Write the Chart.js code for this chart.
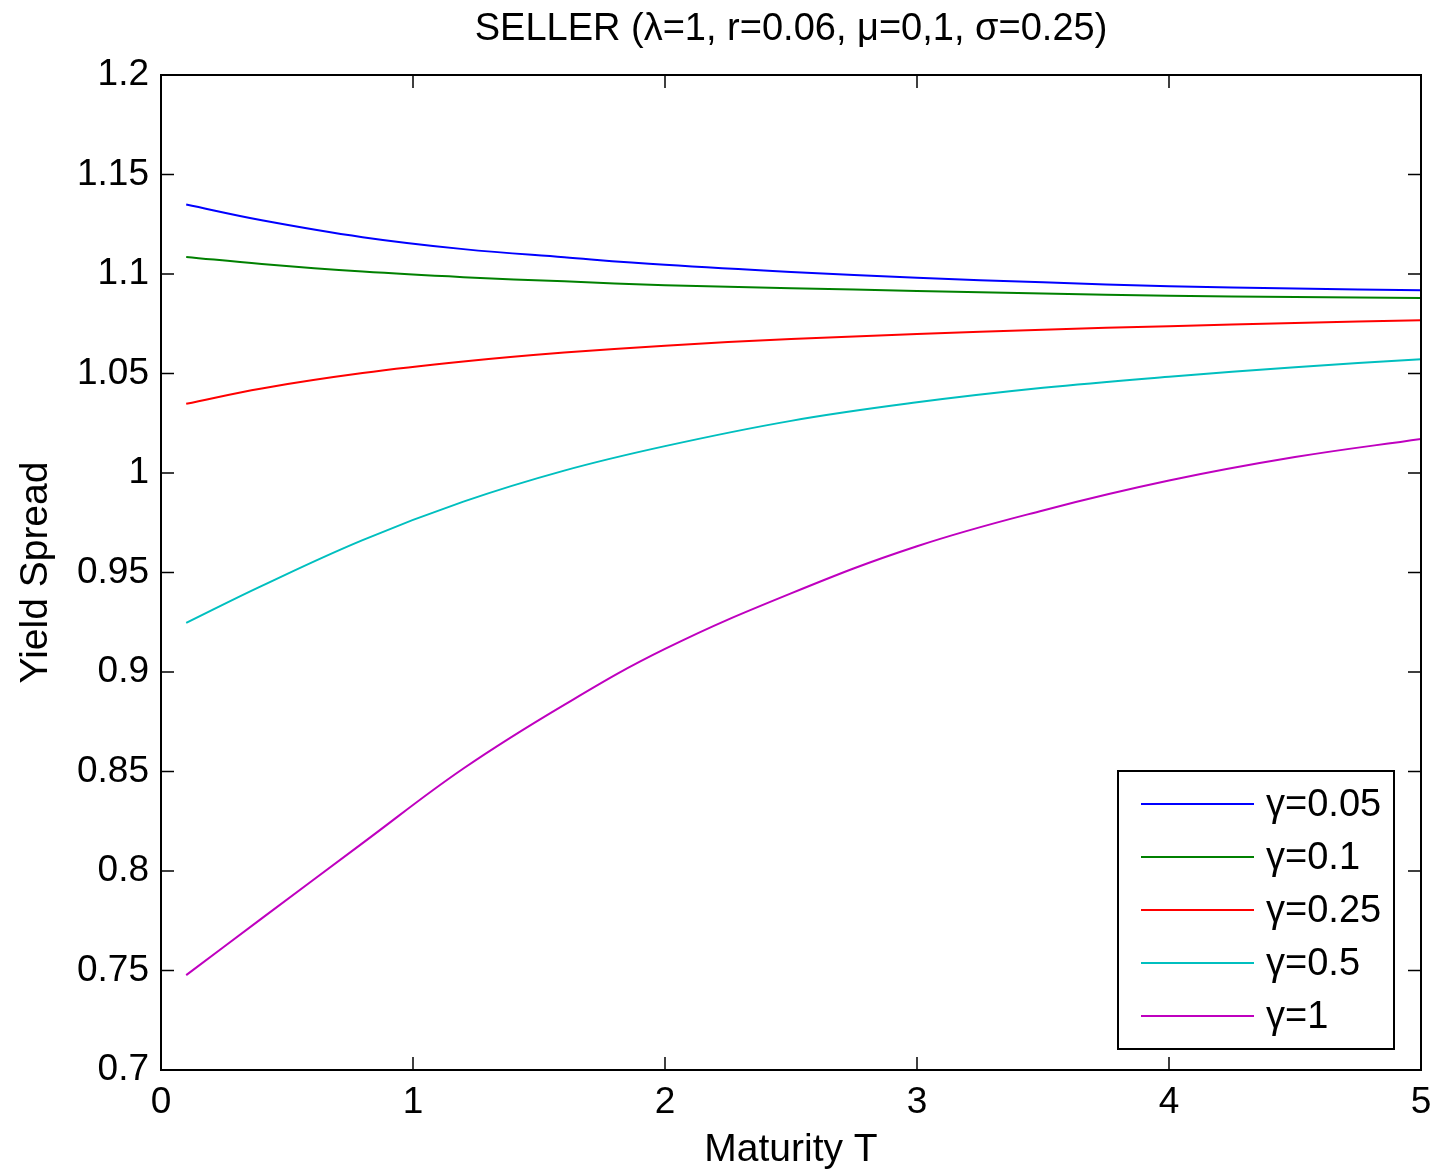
<!DOCTYPE html>
<html>
<head>
<meta charset="utf-8">
<title>SELLER yield spread</title>
<script src="https://cdn.jsdelivr.net/npm/chart.js@4/dist/chart.umd.min.js"></script>
<style>
    body { margin: 0; background: #fff; }
    canvas { display: block; }
</style>
</head>
<body>
<canvas id="seller-chart" width="1437" height="1174"></canvas>
<script>
// maturities (T)
const maturity = [0.1, 0.4, 0.8, 1.2, 1.6, 2.0, 2.5, 3.0, 3.5, 4.0, 4.5, 5.0];

// yield spread per gamma
const gamma005 = [1.1349, 1.1270, 1.1185, 1.1125, 1.1084, 1.1046, 1.1010, 1.0981, 1.0958, 1.0939, 1.0927, 1.0918];
const gamma01  = [1.1086, 1.1050, 1.1012, 1.0984, 1.0963, 1.0944, 1.0929, 1.0915, 1.0902, 1.0891, 1.0884, 1.0879];
const gamma025 = [1.0348, 1.0425, 1.0502, 1.0560, 1.0605, 1.0640, 1.0673, 1.0698, 1.0720, 1.0738, 1.0754, 1.0767];
const gamma05  = [0.9247, 0.9433, 0.9663, 0.9856, 1.0012, 1.0135, 1.0262, 1.0355, 1.0428, 1.0484, 1.0532, 1.0572];
const gamma1   = [0.7477, 0.7762, 0.8140, 0.8515, 0.8835, 0.9116, 0.9395, 0.9632, 0.9812, 0.9962, 1.0080, 1.0171];

const seriesLabels = ["γ=0.05", "γ=0.1", "γ=0.25", "γ=0.5", "γ=1"];
const seriesColors = ["#0000ff", "#008000", "#ff0000", "#00bfbf", "#bf00bf"];

const chartTitle = "SELLER (λ=1, r=0.06, μ=0,1, σ=0.25)";

const FONT = "'Liberation Sans', Arial, Helvetica, sans-serif";

function toPoints(values) {
    let points = [];
    for (let i = 0; i < maturity.length; i++) {
        points.push({ x: maturity[i], y: values[i] });
    }
    return points;
}

let datasets = [];
[gamma005, gamma01, gamma025, gamma05, gamma1].forEach((values, i) => {
    datasets.push({
        label: seriesLabels[i],
        data: toPoints(values),
        borderColor: seriesColors[i],
        borderWidth: 2,
        pointRadius: 0,
        fill: false,
        tension: 0.4,
    });
});

// matlab style box with inward ticks, title over the axes, legend box lower right
const boxPlugin = {
    id: "matlabBox",
    afterDatasetsDraw(chart) {
        const ctx = chart.ctx;
        const area = chart.chartArea;
        const xScale = chart.scales.x;
        const yScale = chart.scales.y;
        const tick = 13;

        ctx.save();
        ctx.strokeStyle = "#000";
        ctx.lineWidth = 1.5;
        ctx.beginPath();
        for (let t of xScale.ticks) {
            let px = xScale.getPixelForValue(t.value);
            ctx.moveTo(px, area.bottom);
            ctx.lineTo(px, area.bottom - tick);
            ctx.moveTo(px, area.top);
            ctx.lineTo(px, area.top + tick);
        }
        for (let t of yScale.ticks) {
            let py = yScale.getPixelForValue(t.value);
            ctx.moveTo(area.left, py);
            ctx.lineTo(area.left + tick, py);
            ctx.moveTo(area.right, py);
            ctx.lineTo(area.right - tick, py);
        }
        ctx.stroke();

        ctx.lineWidth = 2;
        ctx.strokeRect(area.left, area.top, area.right - area.left, area.bottom - area.top);

        // title, centred on the axes
        ctx.fillStyle = "#000";
        ctx.font = "38px " + FONT;
        ctx.textAlign = "center";
        ctx.textBaseline = "middle";
        ctx.fillText(chartTitle, (area.left + area.right) / 2, 30);

        // legend
        const boxW = 276;
        const boxH = 278;
        const boxX = area.right - 27 - boxW;
        const boxY = area.bottom - 21 - boxH;
        ctx.fillStyle = "#fff";
        ctx.fillRect(boxX, boxY, boxW, boxH);
        ctx.strokeStyle = "#000";
        ctx.lineWidth = 2;
        ctx.strokeRect(boxX, boxY, boxW, boxH);

        ctx.font = "38px " + FONT;
        ctx.textBaseline = "middle";
        ctx.textAlign = "left";
        chart.data.datasets.forEach((ds, i) => {
            let y = boxY + 33 + i * 53;
            ctx.strokeStyle = ds.borderColor;
            ctx.lineWidth = 2;
            ctx.beginPath();
            ctx.moveTo(boxX + 23, y);
            ctx.lineTo(boxX + 136, y);
            ctx.stroke();
            ctx.fillStyle = "#000";
            ctx.fillText(ds.label, boxX + 148, y + 2);
        });
        ctx.restore();
    },
};

new Chart(document.getElementById("seller-chart"), {
    type: "line",
    data: { datasets: datasets },
    options: {
        responsive: false,
        animation: false,
        devicePixelRatio: 1,
        layout: { padding: { left: 0, right: 16, top: 75, bottom: 0 } },
        plugins: {
            legend: { display: false },
            tooltip: { enabled: false },
            title: { display: false },
        },
        scales: {
            x: {
                type: "linear",
                min: 0,
                max: 5,
                ticks: {
                    stepSize: 1,
                    color: "#000",
                    font: { family: FONT, size: 37 },
                    padding: 11,
                    maxRotation: 0,
                },
                grid: { display: false, drawTicks: false },
                border: { display: false },
                title: {
                    display: true,
                    text: "Maturity T",
                    color: "#000",
                    font: { family: FONT, size: 39 },
                    padding: { top: 0, bottom: 0 },
                },
                afterFit(scale) {
                    scale.height = 104;
                    scale.paddingLeft = 0;
                    scale.paddingRight = 0;
                },
            },
            y: {
                min: 0.7,
                max: 1.2,
                ticks: {
                    stepSize: 0.05,
                    color: "#000",
                    font: { family: FONT, size: 37 },
                    padding: 12,
                    callback: (v) => parseFloat(v.toFixed(2)).toString(),
                },
                grid: { display: false, drawTicks: false },
                border: { display: false },
                title: {
                    display: true,
                    text: "Yield Spread",
                    color: "#000",
                    font: { family: FONT, size: 39 },
                    padding: { top: 13, bottom: 0 },
                },
                afterFit(scale) {
                    scale.width = 161;
                },
            },
        },
    },
    plugins: [boxPlugin],
});
</script>
</body>
</html>
